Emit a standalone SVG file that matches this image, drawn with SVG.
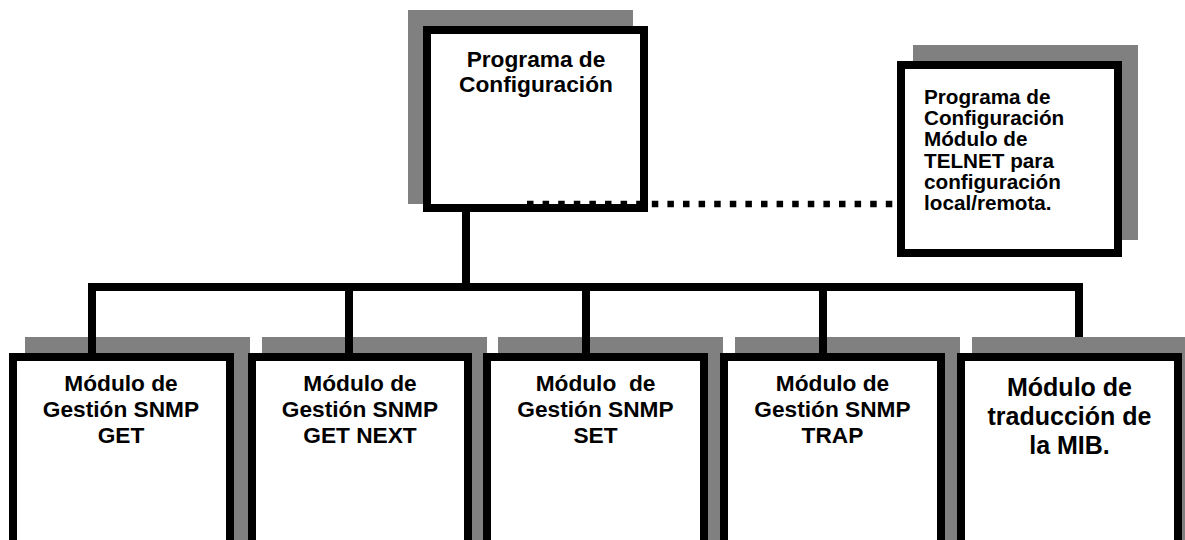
<svg xmlns="http://www.w3.org/2000/svg" width="1185" height="540" viewBox="0 0 1185 540">
<style>
.sh{fill:#808080}
.bx{fill:#fff;stroke:#000;stroke-width:8}
.t{font-family:"Liberation Sans",Arial,sans-serif;font-weight:bold;fill:#000;text-anchor:middle}
.s{font-size:22.7px}
.r{font-size:20.7px;text-anchor:start}
.b{font-size:25px}
.ln{fill:none;stroke:#000;stroke-width:8;stroke-linejoin:miter;stroke-linecap:butt}
.dot{fill:none;stroke:#000;stroke-width:6.5;stroke-dasharray:6.5 9.1}
</style>
<rect width="1185" height="540" fill="#fff"/>
<g id="top">
<rect class="sh" x="408" y="10" width="225" height="194"/>
<rect class="bx" x="427" y="30" width="217" height="178"/>
<text class="t s" x="536" y="67">Programa de</text>
<text class="t s" x="536" y="92">Configuración</text>
</g>
<g id="telnet">
<rect class="sh" x="913" y="45" width="225" height="195"/>
<rect class="bx" x="901" y="65" width="217" height="188"/>
<text class="t r" x="924" y="104">Programa de</text>
<text class="t r" x="924" y="125.2">Configuración</text>
<text class="t r" x="924" y="146.4">Módulo de</text>
<text class="t r" x="924" y="167.6">TELNET para</text>
<text class="t r" x="924" y="188.8">configuración</text>
<text class="t r" x="924" y="210">local/remota.</text>
</g>
<g id="get">
<rect class="sh" x="25" y="337" width="225" height="210"/>
<rect class="bx" x="13" y="357" width="217" height="200"/>
<text class="t s" x="121" y="391">Módulo de</text>
<text class="t s" x="121" y="417">Gestión SNMP</text>
<text class="t s" x="121" y="443">GET</text>
</g>
<g id="getnext">
<rect class="sh" x="262" y="337" width="225" height="210"/>
<rect class="bx" x="252" y="357" width="216" height="200"/>
<text class="t s" x="360" y="391">Módulo de</text>
<text class="t s" x="360" y="417">Gestión SNMP</text>
<text class="t s" x="360" y="443">GET NEXT</text>
</g>
<g id="set">
<rect class="sh" x="498" y="337" width="225" height="210"/>
<rect class="bx" x="487" y="357" width="217" height="200"/>
<text class="t s" x="595.5" y="391" xml:space="preserve">Módulo  de</text>
<text class="t s" x="595.5" y="417">Gestión SNMP</text>
<text class="t s" x="595.5" y="443">SET</text>
</g>
<g id="trap">
<rect class="sh" x="735" y="337" width="225" height="210"/>
<rect class="bx" x="724" y="357" width="217" height="200"/>
<text class="t s" x="832.5" y="391">Módulo de</text>
<text class="t s" x="832.5" y="417">Gestión SNMP</text>
<text class="t s" x="832.5" y="443">TRAP</text>
</g>
<g id="mib">
<rect class="sh" x="972" y="337" width="225" height="210"/>
<rect class="bx" x="961" y="357" width="217" height="200"/>
<text class="t b" x="1069.5" y="396">Módulo de</text>
<text class="t b" x="1069.5" y="425">traducción de</text>
<text class="t b" x="1069.5" y="454">la MIB.</text>
</g>
<g id="connectors">
<path class="ln" d="M466,212 V287"/>
<path class="ln" d="M92,353 V287 H1079 V337"/>
<path class="ln" d="M349,287 V353"/>
<path class="ln" d="M586,287 V353"/>
<path class="ln" d="M823,287 V353"/>
<path class="dot" d="M527,204 H894"/>
</g>
</svg>
